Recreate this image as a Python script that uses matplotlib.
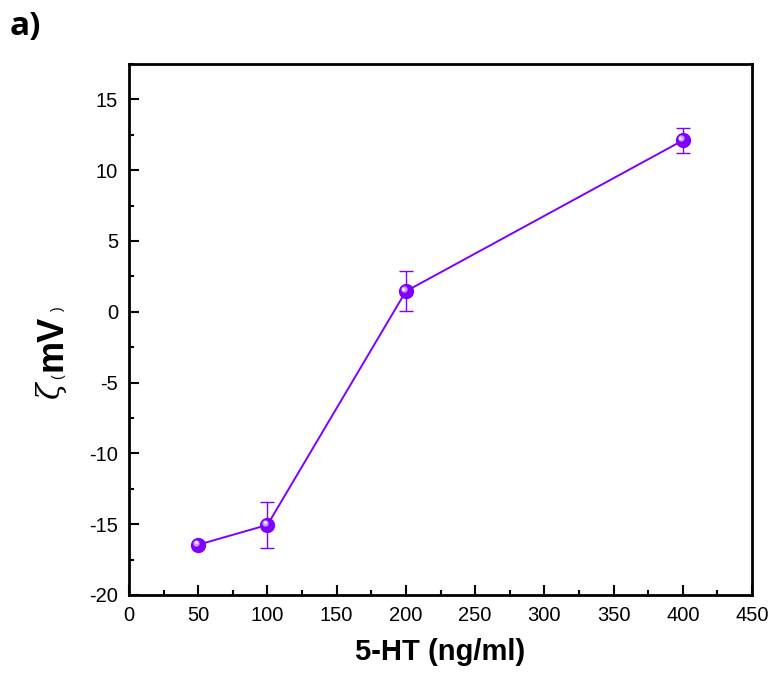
import matplotlib
matplotlib.use("Agg")
import matplotlib.pyplot as plt
from matplotlib.ticker import MultipleLocator
import matplotlib.transforms as mtransforms

conc = [50, 100, 200, 400]
zeta = [-16.45, -15.05, 1.45, 12.1]
err = [0.0, 1.6, 1.4, 0.9]
xticks = [0, 50, 100, 150, 200, 250, 300, 350, 400, 450]
yticks = [-20, -15, -10, -5, 0, 5, 10, 15]

color = "#8000ff"
plt.rcParams['font.family'] = ['Liberation Sans', 'DejaVu Sans']
plt.rcParams['axes.unicode_minus'] = False

fig = plt.figure(figsize=(7.77, 6.77), dpi=100)
ax = fig.add_axes([129/777, 1-595/677, (752-129)/777, (595-64)/677])

ax.errorbar(conc, zeta, yerr=err, color=color, lw=1.4, elinewidth=1.0,
            capsize=5, capthick=1.0, marker='o', ms=10, mfc=color, mec=color, zorder=3)
off = mtransforms.offset_copy(ax.transData, fig=fig, x=-1.5, y=1.5, units='points')
ax.plot(conc, zeta, ls='none', marker='o', ms=4.5, mfc='#c9a0ff', mec='none', transform=off, zorder=4)
off2 = mtransforms.offset_copy(ax.transData, fig=fig, x=-1.8, y=1.8, units='points')
ax.plot(conc, zeta, ls='none', marker='o', ms=2, mfc='white', mec='none', transform=off2, zorder=5)

ax.set_xlim(0, 450)
ax.set_ylim(-20, 17.5)
ax.set_xticks(xticks)
ax.set_yticks(yticks)
ax.xaxis.set_minor_locator(MultipleLocator(25))
ax.yaxis.set_minor_locator(MultipleLocator(2.5))
ax.tick_params(which='both', direction='in', top=False, right=False, width=1.5, labelsize=14.5, pad=8)
ax.tick_params(which='major', length=7)
ax.tick_params(which='minor', length=3.5)
for s in ax.spines.values():
    s.set_linewidth(2)

ax.set_xlabel("5-HT (ng/ml)", fontsize=21, fontweight='bold', labelpad=9)

def fx(x): return x/777
def fy(y): return 1 - y/677
fig.text(fx(51), fy(391), "ζ", fontsize=22, style='italic', rotation=90, ha='center', va='center', family='DejaVu Serif')
fig.text(fx(58), fy(377), "(", fontsize=10, rotation=90, ha='center', va='center')
fig.text(fx(52), fy(343), "mV", fontsize=26, fontweight='bold', rotation=90, ha='center', va='center')
fig.text(fx(58), fy(309), ")", fontsize=10, rotation=90, ha='center', va='center')

fig.text(fx(10), fy(27), "a)", fontsize=24, fontweight='bold', ha='left', va='center', family='Open Sans')

fig.savefig("out.png", dpi=100)
